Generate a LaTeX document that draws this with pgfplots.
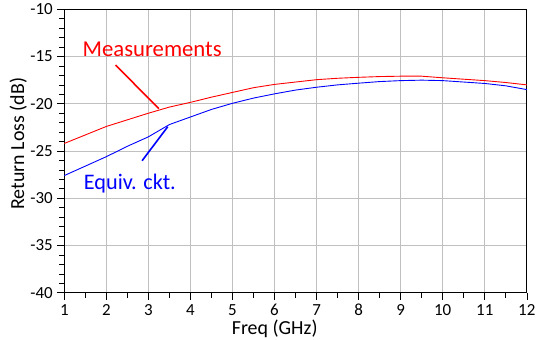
\documentclass[border=0pt]{standalone}
\usepackage{pgfplots}
\pgfplotsset{compat=1.18}
\usepackage{fontspec}
\setmainfont{Carlito}
\definecolor{gridgray}{RGB}{192,192,192}
\begin{document}
\begin{tikzpicture}
\begin{pgfinterruptboundingbox}
\begin{axis}[
  scale only axis,
  width=462.5bp, height=283.4bp,
  xmin=1, xmax=12, ymin=-40, ymax=-10,
  xtick={1,2,...,12}, ytick={-40,-35,...,-10},
  minor x tick num=1, minor y tick num=4,
  tick align=outside,
  xtick pos=lower, ytick pos=left,
  major tick length=7bp, minor tick length=5bp,
  grid=major,
  major grid style={gridgray, line width=1pt},
  axis line style={black, line width=0.8pt},
  every tick/.style={black, line width=0.6pt},
  /pgf/number format/assume math mode=true,
  ticklabel style={font=\fontsize{17}{20}\selectfont},
  xticklabel style={yshift=-1bp},
  yticklabel style={xshift=-1bp},
  xlabel={Freq (GHz)},
  ylabel={Return Loss (dB)},
  label style={font=\fontsize{20}{24}\selectfont},
  xlabel style={at={(axis description cs:0.455,0)}, anchor=north, yshift=-24bp},
  ylabel style={at={(axis description cs:0,0.526)}, anchor=south, yshift=34bp},
  clip=false,
]
\addplot[red, line width=0.9pt] coordinates {
(1,-24.2) (1.5,-23.3) (2,-22.4) (2.5,-21.7) (3,-21.0) (3.5,-20.35) (4,-19.85)
(4.5,-19.3) (5,-18.8) (5.5,-18.3) (6,-17.95) (6.5,-17.7) (7,-17.45) (7.5,-17.3)
(8,-17.2) (8.5,-17.12) (9,-17.08) (9.5,-17.08) (10,-17.25) (10.5,-17.4)
(11,-17.55) (11.5,-17.75) (12,-18.0)};
\addplot[blue, line width=0.9pt] coordinates {
(1,-27.6) (1.5,-26.6) (2,-25.6) (2.5,-24.5) (3,-23.5) (3.5,-22.2) (4,-21.4)
(4.5,-20.6) (5,-19.95) (5.5,-19.4) (6,-18.95) (6.5,-18.55) (7,-18.25) (7.5,-18.0)
(8,-17.82) (8.5,-17.65) (9,-17.55) (9.5,-17.5) (10,-17.55) (10.5,-17.7)
(11,-17.85) (11.5,-18.1) (12,-18.5)};
\draw[red, line width=1.6pt] (axis cs:2.22,-15.9) -- (axis cs:3.25,-20.53);
\draw[blue, line width=1.6pt] (axis cs:2.85,-26.03) -- (axis cs:3.46,-22.43);
\node[red, anchor=base, inner sep=0pt, font=\fontsize{22.8}{26}\selectfont] at (axis cs:3.09,-14.97) {Measurements};
\node[blue, anchor=base, inner sep=0pt, font=\fontsize{22.3}{26}\selectfont] at (axis cs:2.56,-29.06) {Equiv. ckt.};
\end{axis}
\end{pgfinterruptboundingbox}
\path[use as bounding box] ([xshift=-64.3bp,yshift=-47.3bp]current axis.south west) rectangle ([xshift=9.2bp,yshift=9.3bp]current axis.north east);
\end{tikzpicture}
\end{document}
